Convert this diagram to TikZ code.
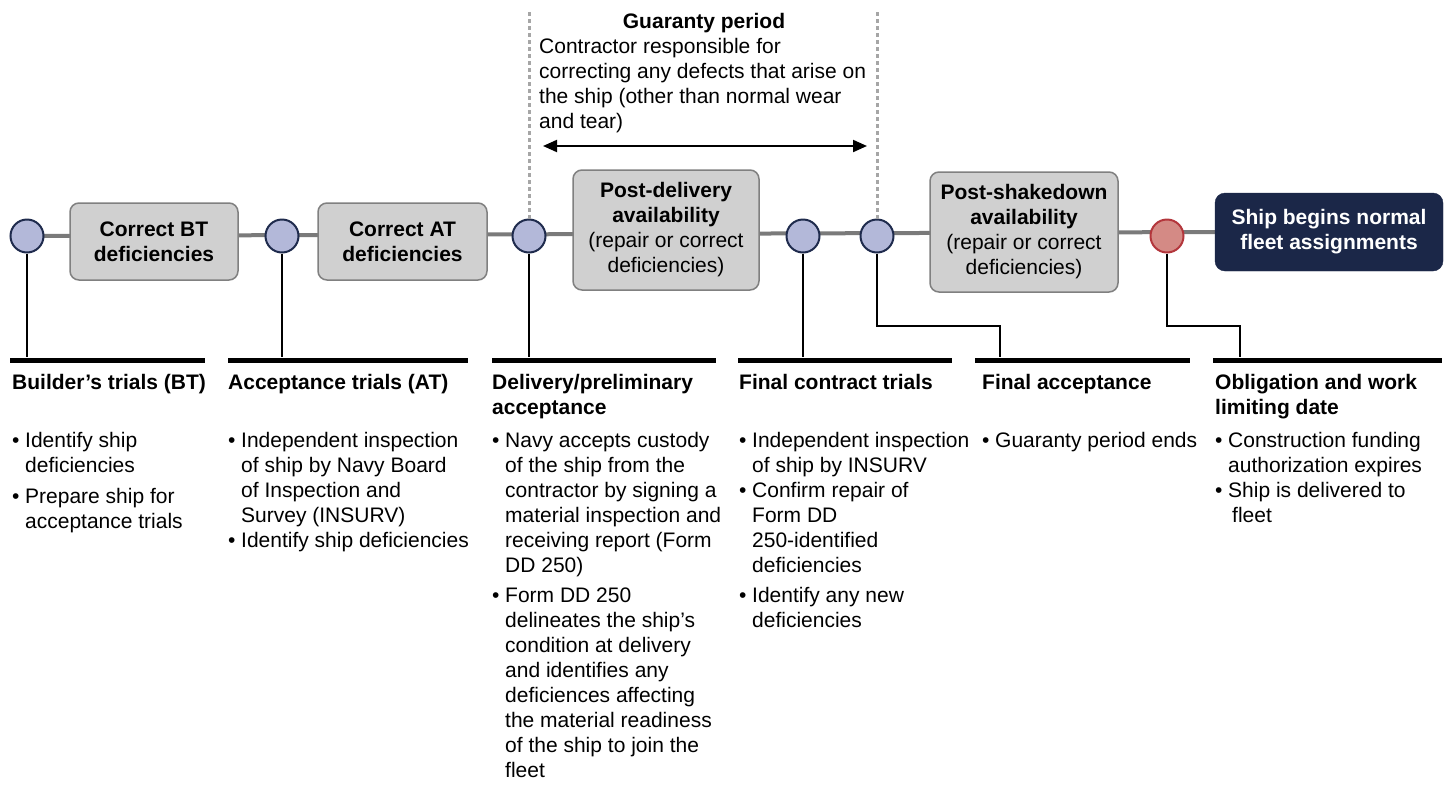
\documentclass[tikz,border=0pt]{standalone}
\usepackage{fontspec}
\setmainfont{Liberation Sans}
\usetikzlibrary{arrows.meta,backgrounds}
\definecolor{tlgray}{HTML}{7A7A7A}
\definecolor{boxfill}{HTML}{D0D0D0}
\definecolor{boxline}{HTML}{808080}
\definecolor{lav}{HTML}{B3B8D9}
\definecolor{navyline}{HTML}{1F2B4D}
\definecolor{redfill}{HTML}{D48A85}
\definecolor{redline}{HTML}{B3363C}
\definecolor{darknavy}{HTML}{1B2748}
\definecolor{dotgray}{HTML}{A6A6A6}
\newcommand{\bulx}{\makebox[13pt][l]{•}}
\newcommand{\indx}{\hspace*{13pt}}
\begin{document}
\begin{tikzpicture}[x=1pt,y=-1pt,
  every node/.style={font=\fontsize{21}{25}\selectfont, inner sep=0pt},
  mstone/.style={circle, draw=navyline, fill=lav, line width=2pt, minimum size=33pt},
  redstone/.style={circle, draw=redline, fill=redfill, line width=2pt, minimum size=33pt},
  phase/.style={rounded corners=9pt, draw=boxline, fill=boxfill, line width=1.5pt, align=center,
    font=\fontsize{21}{25}\selectfont\bfseries},
  finalbox/.style={rounded corners=10pt, draw=darknavy, fill=darknavy, text=white, align=center,
    font=\fontsize{21}{25}\selectfont\bfseries},
  bar/.style={fill=black, minimum height=5pt, inner sep=0pt, anchor=west},
  conn/.style={draw=black, line width=1.8pt},
  timeline/.style={draw=tlgray, line width=4pt},
  guide/.style={draw=dotgray, line width=3pt, dash pattern=on 4pt off 3pt},
  garrow/.style={draw=black, line width=2pt, {Triangle[length=14pt,width=12pt]}-{Triangle[length=14pt,width=12pt]}},
  txt/.style={anchor=base west}
]
\useasboundingbox (0,0) rectangle (1449,785);

% milestones
\node[mstone] (c1) at (27,236) {};
\node[mstone] (c2) at (282,236) {};
\node[mstone] (c3) at (529,236) {};
\node[mstone] (c4) at (803,236) {};
\node[mstone] (c5) at (877,236) {};
\node[redstone] (c6) at (1167,236) {};

% phase boxes
\node[phase, minimum width=168pt, minimum height=77pt] (p1) at (154,241.5) {Correct BT\\deficiencies};
\node[phase, minimum width=169pt, minimum height=77pt] (p2) at (402.5,241.5) {Correct AT\\deficiencies};
\node[phase, minimum width=186pt, minimum height=120pt] (p3) at (666,230)
  {Post-delivery\\availability\\\mdseries(repair or correct\\\mdseries deficiencies)};
\node[phase, minimum width=188pt, minimum height=120pt] (p4) at (1024,232)
  {Post-shakedown\\availability\\\mdseries(repair or correct\\\mdseries deficiencies)};
\node[finalbox, minimum width=228pt, minimum height=78pt] (fin) at (1329,232)
  {Ship begins normal\\fleet assignments};

% timeline behind
\begin{pgfonlayer}{background}
\draw[timeline] (c1.center) -- (fin.west);
\end{pgfonlayer}

% guaranty period
\coordinate (g1top) at (529,12);
\coordinate (g2top) at (877,12);
\draw[guide] (c3.north) -- (g1top);
\draw[guide] (c5.north) -- (g2top);
\coordinate (ga) at (543,146);
\coordinate (gb) at (867,146);
\draw[garrow] (ga) -- (gb);
\node[anchor=base, font=\fontsize{21}{25}\selectfont\bfseries] (gtitle) at (704,28) {Guaranty period};
\node[txt] (gdesc) at (539,53) {\parbox[t]{340pt}{\raggedright Contractor responsible for\\correcting any defects that arise on\\the ship (other than normal wear\\and tear)}};

% bars
\node[bar, minimum width=195pt] (b1) at (10,360) {};
\node[bar, minimum width=240pt] (b2) at (228,360) {};
\node[bar, minimum width=224pt] (b3) at (492,360) {};
\node[bar, minimum width=214pt] (b4) at (738,360) {};
\node[bar, minimum width=215pt] (b5) at (975,360) {};
\node[bar, minimum width=229pt] (b6) at (1213,360) {};

% connectors
\draw[conn] (c1.south) -- (c1.south |- b1.north);
\draw[conn] (c2.south) -- (c2.south |- b2.north);
\draw[conn] (c3.south) -- (c3.south |- b3.north);
\draw[conn] (c4.south) -- (c4.south |- b4.north);
\coordinate (e5) at (1000,326);
\coordinate (e6) at (1240,326);
\draw[conn] (c5.south) |- (e5) -- (e5 |- b5.north);
\draw[conn] (c6.south) |- (e6) -- (e6 |- b6.north);

% headers
\node[txt] (h1) at (12,389) {\parbox[t]{220pt}{\raggedright\bfseries Builder’s trials (BT)}};
\node[txt] (h2) at (228,389) {\parbox[t]{240pt}{\raggedright\bfseries Acceptance trials (AT)}};
\node[txt] (h3) at (492,389) {\parbox[t]{240pt}{\raggedright\bfseries Delivery/preliminary\\acceptance}};
\node[txt] (h4) at (739,389) {\parbox[t]{240pt}{\raggedright\bfseries Final contract trials}};
\node[txt] (h5) at (982,389) {\parbox[t]{240pt}{\raggedright\bfseries Final acceptance}};
\node[txt] (h6) at (1215,389) {\parbox[t]{240pt}{\raggedright\bfseries Obligation and work\\limiting date}};

% bullets
\node[txt] (t1) at (12,447) {\parbox[t]{220pt}{\raggedright
  \bulx Identify ship\\ \indx deficiencies\\[6pt]
  \bulx Prepare ship for\\ \indx acceptance trials}};
\node[txt] (t2) at (228,447) {\parbox[t]{260pt}{\raggedright
  \bulx Independent inspection\\ \indx of ship by Navy Board\\ \indx of Inspection and\\ \indx Survey (INSURV)\\
  \bulx Identify ship deficiencies}};
\node[txt] (t3) at (492,447) {\parbox[t]{260pt}{\raggedright
  \bulx Navy accepts custody\\ \indx of the ship from the\\ \indx contractor by signing a\\ \indx material inspection and\\ \indx receiving report (Form\\ \indx DD 250)\\[5pt]
  \bulx Form DD 250\\ \indx delineates the ship’s\\ \indx condition at delivery\\ \indx and identifies any\\ \indx deficiences affecting\\ \indx the material readiness\\ \indx of the ship to join the\\ \indx fleet}};
\node[txt] (t4) at (739,447) {\parbox[t]{260pt}{\raggedright
  \bulx Independent inspection\\ \indx of ship by INSURV\\
  \bulx Confirm repair of\\ \indx Form DD\\ \indx 250-identified\\ \indx deficiencies\\[5pt]
  \bulx Identify any new\\ \indx deficiencies}};
\node[txt] (t5) at (982,447) {\parbox[t]{240pt}{\raggedright
  \bulx Guaranty period ends}};
\node[txt] (t6) at (1215,447) {\parbox[t]{240pt}{\raggedright
  \bulx Construction funding\\ \indx authorization expires\\
  \bulx Ship is delivered to\\ \indx\hspace*{4pt}fleet}};
\end{tikzpicture}
\end{document}
